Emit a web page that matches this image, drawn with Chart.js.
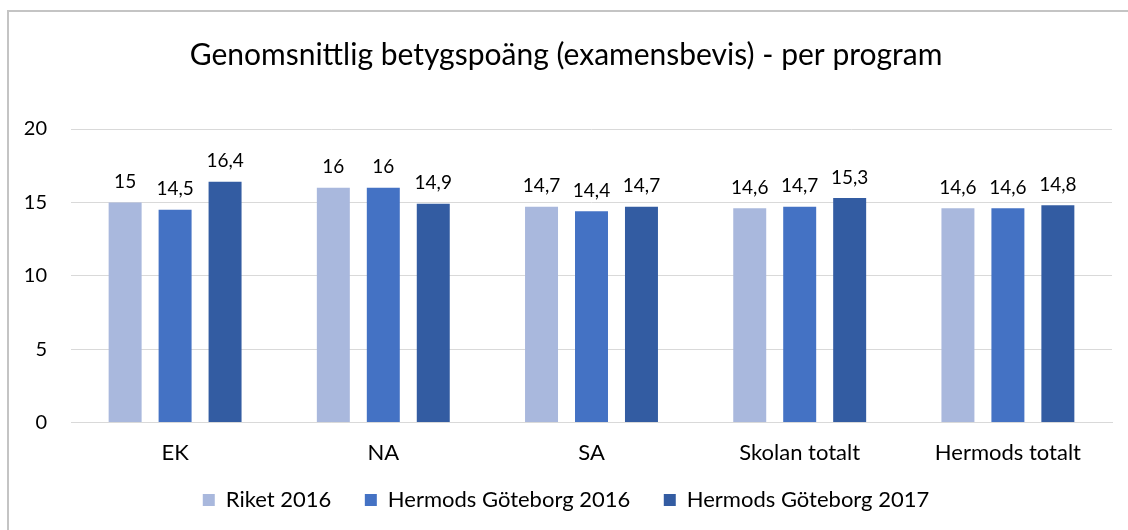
<!DOCTYPE html>
<html>
<head>
<meta charset="utf-8">
<script src="https://cdn.jsdelivr.net/npm/chart.js@4"></script>
<style>
  html, body { margin: 0; padding: 0; background: #fff; }
  #wrap { position: relative; width: 1128px; height: 530px; overflow: hidden; }
  #frame { position: absolute; left: 7px; top: 10px; width: 1200px; height: 600px;
           border-left: 2px solid #c4c4c4; border-top: 2px solid #c4c4c4; }
  canvas { position: absolute; left: 0; top: 0; }
</style>
</head>
<body>
<div id="wrap">
  <div id="frame"></div>
  <canvas id="mainChart" width="1128" height="530"></canvas>
</div>
<script>
const categories = ['EK', 'NA', 'SA', 'Skolan totalt', 'Hermods totalt'];
const riket2016 = [15, 16, 14.7, 14.6, 14.6];
const goteborg2016 = [14.5, 16, 14.4, 14.7, 14.6];
const goteborg2017 = [16.4, 14.9, 14.7, 15.3, 14.8];
const yTicks = [0, 5, 10, 15, 20];

const fontFamily = 'Lato, "Open Sans", sans-serif';

// Draw value labels above each bar, Swedish decimal comma
const valueLabels = {
    id: 'valueLabels',
    afterDatasetsDraw(chart) {
        const ctx = chart.ctx;
        ctx.save();
        ctx.font = '19px ' + fontFamily;
        ctx.fillStyle = '#000';
        ctx.textAlign = 'center';
        ctx.textBaseline = 'bottom';
        chart.data.datasets.forEach((ds, i) => {
            chart.getDatasetMeta(i).data.forEach((bar, j) => {
                const label = String(ds.data[j]).replace('.', ',');
                ctx.fillText(label, bar.x, bar.y - 11);
            });
        });
        ctx.restore();
    }
};

new Chart(document.getElementById('mainChart'), {
    type: 'bar',
    data: {
        labels: categories,
        datasets: [
            { label: 'Riket 2016', data: riket2016, backgroundColor: '#a9b8dd' },
            { label: 'Hermods Göteborg 2016', data: goteborg2016, backgroundColor: '#4472c4' },
            { label: 'Hermods Göteborg 2017', data: goteborg2017, backgroundColor: '#335ca2' }
        ]
    },
    options: {
        responsive: false,
        animation: false,
        categoryPercentage: 0.72,
        barPercentage: 0.66,
        layout: { padding: { left: 20, right: 16, top: 0, bottom: 9 } },
        plugins: {
            title: {
                display: true,
                text: 'Genomsnittlig betygspoäng (examensbevis) - per program',
                color: '#000',
                font: { family: fontFamily, size: 30, weight: 'normal' },
                padding: { top: 37, bottom: 56 }
            },
            legend: {
                position: 'bottom',
                labels: {
                    color: '#000',
                    font: { family: fontFamily, size: 22 },
                    boxWidth: 12,
                    boxHeight: 12,
                    padding: 6,
                    // extra gap between items without growing the legend height
                    generateLabels: chart => {
                        const items = Chart.defaults.plugins.legend.labels.generateLabels(chart);
                        items.forEach((item, i) => {
                            if (i < items.length - 1) item.text += '\u2003\u2002';
                        });
                        return items;
                    }
                }
            },
            tooltip: { enabled: false }
        },
        scales: {
            y: {
                min: 0,
                max: 20,
                afterBuildTicks: scale => { scale.ticks = yTicks.map(v => ({ value: v })); },
                afterFit: scale => { scale.width = 51; },
                ticks: {
                    color: '#000',
                    padding: 24,
                    font: { family: fontFamily, size: 20 }
                },
                grid: { color: '#d9d9d9', drawTicks: false },
                border: { display: false }
            },
            x: {
                ticks: {
                    color: '#000',
                    padding: 17,
                    font: { family: fontFamily, size: 22 }
                },
                grid: { display: false, drawTicks: false },
                border: { color: '#d9d9d9' }
            }
        }
    },
    plugins: [valueLabels]
});
</script>
</body>
</html>
